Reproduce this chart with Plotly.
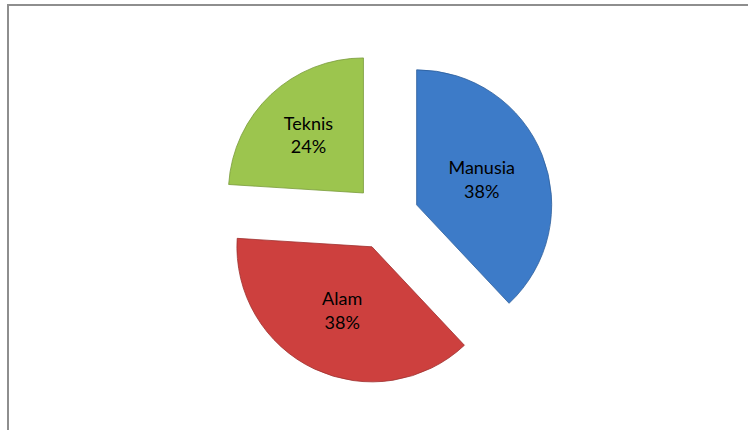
import plotly.graph_objects as go

labels = ["Manusia", "Alam", "Teknis"]
values = [38, 38, 24]
colors = ["#3D7BC8", "#CD403E", "#9CC54E"]
edge_colors = ["#2F609C", "#9E302E", "#789A3A"]
pulls = [0.244, 0.244, 0.244]

W, H = 748, 430
L, R, T, B = 40, 16, 49, 45
pw, ph = W - L - R, H - T - B

fig = go.Figure(go.Pie(
    labels=labels,
    values=values,
    sort=False,
    direction="clockwise",
    rotation=0,
    pull=pulls,
    marker=dict(colors=colors, line=dict(color=edge_colors, width=0.8)),
    textinfo="label+percent",
    textposition="inside",
    insidetextorientation="horizontal",
    textfont=dict(family="Lato, Open Sans, sans-serif", size=18, color="black"),
    hoverinfo="label+percent",
    showlegend=False,
))

# chart area border (gray), open to the right/bottom edges of the window
fig.add_shape(
    type="rect", xref="paper", yref="paper",
    x0=(8 - L) / pw, x1=(W + 20 - L) / pw,
    y0=-(B + 20) / ph, y1=1 + (T - 5) / ph,
    line=dict(color="#8E8E8E", width=2),
    fillcolor="rgba(0,0,0,0)",
    layer="below",
)

fig.update_layout(
    width=W, height=H,
    margin=dict(l=L, r=R, t=T, b=B),
    paper_bgcolor="white",
    plot_bgcolor="white",
    uniformtext=dict(minsize=18, mode="show"),
)

fig.write_html("out.html")
